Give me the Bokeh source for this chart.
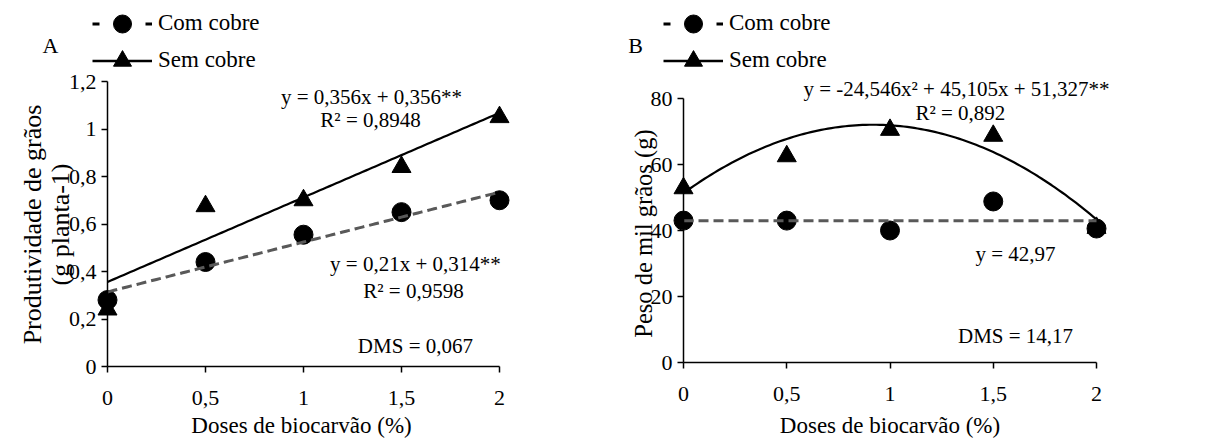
import numpy as np
from bokeh.plotting import figure
from bokeh.models import Range1d, FixedTicker, Label, Legend, LegendItem
from bokeh.layouts import row
from bokeh.embed import file_html
from bokeh.resources import INLINE

# ---------------- data ----------------
doses = [0, 0.5, 1, 1.5, 2]

prod_com = [0.28, 0.44, 0.555, 0.65, 0.70]     # Com cobre, panel A
prod_sem = [0.24, 0.675, 0.70, 0.84, 1.05]     # Sem cobre, panel A
peso_com = [43.0, 43.0, 40.0, 48.8, 40.6]      # Com cobre, panel B
peso_sem = [52.8, 62.5, 70.5, 68.7, 40.8]      # Sem cobre, panel B

# trend-line coefficients printed on the chart (highest power first)
fit_prod_com = [0.21, 0.314]
fit_prod_sem = [0.356, 0.356]
fit_peso_com = [42.97]
fit_peso_sem = [-24.546, 45.105, 51.327]

x_ticks = [0, 0.5, 1, 1.5, 2]
x_tick_labels = ["0", "0,5", "1", "1,5", "2"]
prod_ticks = [0, 0.2, 0.4, 0.6, 0.8, 1, 1.2]
prod_tick_labels = ["0", "0,2", "0,4", "0,6", "0,8", "1", "1,2"]
peso_ticks = [0, 20, 40, 60, 80]
peso_tick_labels = ["0", "20", "40", "60", "80"]

series_names = ["Com cobre", "Sem cobre"]
x_title = "Doses de biocarvão (%)"

FONT = "'Liberation Serif', 'Times New Roman', serif"
GRAY = "#595959"
H = 442


def style_axes(p, yt, yl, ymax):
    xa = p.xaxis[0]
    ya = p.yaxis[0]
    xa.ticker = FixedTicker(ticks=x_ticks)
    xa.major_label_overrides = dict(zip(x_ticks, x_tick_labels))
    xa.bounds = (0, 2)
    xa.fixed_location = 0
    ya.ticker = FixedTicker(ticks=yt)
    ya.major_label_overrides = dict(zip(yt, yl))
    ya.bounds = (0, ymax)
    ya.fixed_location = 0
    for ax in (xa, ya):
        ax.axis_line_color = "black"
        ax.axis_line_width = 1.5
        ax.major_tick_line_color = "black"
        ax.major_tick_line_width = 1.5
        ax.major_tick_out = 6
        ax.major_tick_in = 0
        ax.minor_tick_line_color = None
        ax.major_label_text_font = FONT
        ax.major_label_text_font_size = "22px"
        ax.major_label_text_color = "black"
    xa.major_label_standoff = 18
    ya.major_label_standoff = 5


def lbl(p, x, y, text, size="21px", angle=0.0, baseline="middle", align="center"):
    p.add_layout(Label(x=x, y=y, text=text, text_font=FONT, text_font_size=size,
                       text_color="black", text_align=align, text_baseline=baseline,
                       angle=angle))


def legend(p, name, rends, vx, vy):
    p.add_layout(Legend(items=[LegendItem(label=name, renderers=rends)],
                        location=(vx, vy), glyph_width=60, glyph_height=45,
                        label_height=20, spacing=0, padding=0, margin=0,
                        label_standoff=6, border_line_color=None,
                        background_fill_alpha=0, label_text_font=FONT,
                        label_text_font_size="23px", label_text_color="black"))


def panel(width, xr, yr, com, sem, fit_com, fit_sem, yt, yl, ymax, leg_x):
    p = figure(width=width, height=H, x_range=Range1d(*xr), y_range=Range1d(*yr),
               output_backend="svg", toolbar_location=None,
               min_border_left=0, min_border_right=0,
               min_border_top=0, min_border_bottom=0)
    p.grid.visible = False
    p.outline_line_color = None
    p.background_fill_color = "white"
    p.border_fill_color = "white"
    style_axes(p, yt, yl, ymax)

    tri = p.scatter(doses, sem, marker="triangle", size=19, fill_color="black",
                    line_color="black")
    circ = p.scatter(doses, com, marker="circle", size=19, fill_color="black",
                     line_color="black")

    xs = np.linspace(0, 2, 121)
    p.line(xs, np.polyval(fit_sem, xs), line_color="black", line_width=2.2)
    p.line(xs, np.polyval(fit_com, xs) + 0 * xs, line_color=GRAY, line_width=3,
           line_dash="10 5")

    # legend-only line samples (a single empty point, nothing drawn in the plot)
    l_com = p.line([np.nan], [np.nan], line_color="black", line_width=3,
                   line_dash="7 46")
    l_sem = p.line([np.nan], [np.nan], line_color="black", line_width=2.5)
    legend(p, series_names[0], [l_com, circ], leg_x, H - 45 - (23 - 22.5))
    legend(p, series_names[1], [l_sem, tri], leg_x, H - 45 - (60 - 22.5))
    return p


# ---------------- panel A (canvas x 0..598) ----------------
pA = panel(598, (-107 / 196, (598 - 107) / 196), ((366 - H) / 237.5, 366 / 237.5),
           prod_com, prod_sem, fit_prod_com, fit_prod_sem,
           prod_ticks, prod_tick_labels, 1.2, 92)
lbl(pA, -0.291, 1.352, "A", size="22px")
lbl(pA, 1.347, 1.133, "y = 0,356x + 0,356**")
lbl(pA, 1.342, 1.040, "R² = 0,8948")
lbl(pA, 1.571, 0.4295, "y = 0,21x + 0,314**")
lbl(pA, 1.561, 0.316, "R² = 0,9598")
lbl(pA, 1.571, 0.088, "DMS = 0,067")
lbl(pA, 0.99, -0.248, x_title, size="23px")
lbl(pA, -0.383, 0.598, "Produtividade de grãos", size="26px", angle=np.pi / 2,
    baseline="alphabetic")
lbl(pA, -0.240, 0.598, "(g planta-1)", size="26px", angle=np.pi / 2,
    baseline="alphabetic")

# ---------------- panel B (canvas x 598..1205) ----------------
pB = panel(607, ((598 - 683) / 206.5, (1205 - 683) / 206.5), ((362 - H) / 3.3, 362 / 3.3),
           peso_com, peso_sem, fit_peso_com, fit_peso_sem,
           peso_ticks, peso_tick_labels, 80, 663 - 598)
lbl(pB, -0.232, 96.1, "B", size="22px")
lbl(pB, 1.322, 83.0, "y = -24,546x² + 45,105x + 51,327**")
lbl(pB, 1.341, 75.5, "R² = 0,892")
lbl(pB, 1.608, 33.0, "y = 42,97")
lbl(pB, 1.608, 8.18, "DMS = 14,17")
lbl(pB, 1.0, -19.1, x_title, size="23px")
lbl(pB, -0.194, 40.0, "Peso de mil  grãos (g)", size="24.5px", angle=np.pi / 2,
    baseline="alphabetic")

layout = row(pA, pB)
open("out.html", "w").write(file_html(layout, INLINE))
